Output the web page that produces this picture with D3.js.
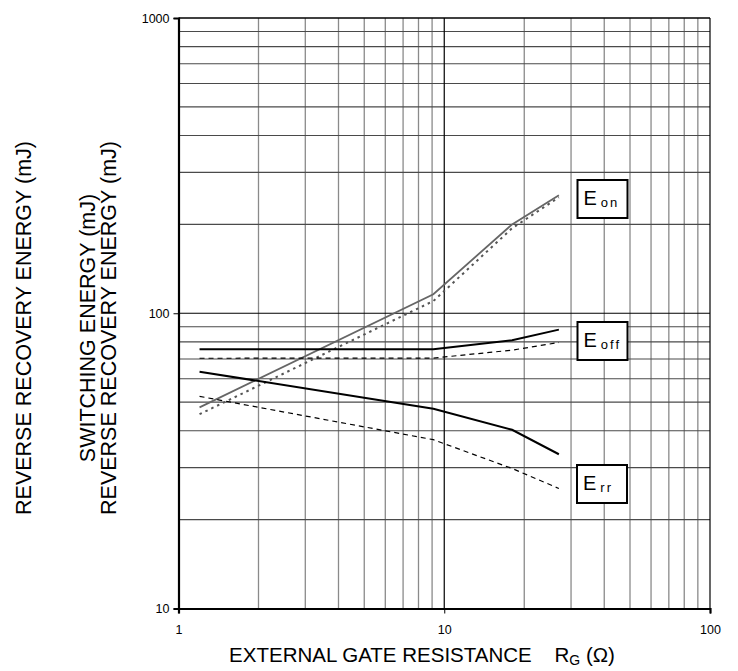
<!DOCTYPE html>
<meta charset="utf-8">
<head>
<script src="https://d3js.org/d3.v7.min.js"></script>
<style>
  body { margin: 0; background: #fff; }
  text { font-family: "Liberation Sans", Arial, sans-serif; }
</style>
</head>
<body>
<div id="chart"></div>
<script>
// gate resistance values (ohm)
var rg = [1.2, 9.1, 18, 27];

// energies (mJ), solid = typ, dashed = second condition
var eonSolid  = [48, 116, 200, 251];
var eonDash   = [45.5, 110, 194, 247];
var eoffSolid = [75.5, 75.5, 81, 88];
var eoffDash  = [70.4, 70.5, 75, 79.6];
var errSolid  = [63.4, 47.5, 40.3, 33.3];
var errDash   = [52.3, 37.3, 29.8, 25.5];

var xTicks = [1, 10, 100];
var yTicks = [10, 100, 1000];

var W = 738, H = 671;
var margin = {left: 178.5, right: 28, top: 18, bottom: 62.5};

var svg = d3.select("#chart").append("svg")
    .attr("width", W).attr("height", H);

var x = d3.scaleLog().domain([1, 100]).range([margin.left, W - margin.right]);
var y = d3.scaleLog().domain([10, 1000]).range([H - margin.bottom, margin.top]);

// minor grid
var minorX = [], minorY = [];
[1, 10].forEach(function(d) { for (var k = 2; k <= 9; k++) minorX.push(d * k); });
[10, 100].forEach(function(d) { for (var k = 2; k <= 9; k++) minorY.push(d * k); });

svg.append("g").selectAll("line").data(minorX).enter().append("line")
    .attr("x1", function(d) { return x(d); }).attr("x2", function(d) { return x(d); })
    .attr("y1", y(10)).attr("y2", y(1000))
    .attr("stroke", "#8a8a8a").attr("stroke-width", 1.3);

svg.append("g").selectAll("line").data(minorY).enter().append("line")
    .attr("y1", function(d) { return y(d); }).attr("y2", function(d) { return y(d); })
    .attr("x1", x(1)).attr("x2", x(100))
    .attr("stroke", "#4a4a4a").attr("stroke-width", 1.2);

// major lines
svg.append("line").attr("x1", x(10)).attr("x2", x(10)).attr("y1", y(10)).attr("y2", y(1000))
    .attr("stroke", "#000").attr("stroke-width", 1.2);
svg.append("line").attr("y1", y(100)).attr("y2", y(100)).attr("x1", x(1)).attr("x2", x(100))
    .attr("stroke", "#000").attr("stroke-width", 1.2);
svg.append("line").attr("y1", y(1000)).attr("y2", y(1000)).attr("x1", x(1)).attr("x2", x(100))
    .attr("stroke", "#000").attr("stroke-width", 1.5);
svg.append("line").attr("x1", x(100)).attr("x2", x(100)).attr("y1", y(10)).attr("y2", y(1000))
    .attr("stroke", "#000").attr("stroke-width", 1.2);

// axes
var xAxis = svg.append("g")
    .attr("transform", "translate(0," + y(10) + ")")
    .call(d3.axisBottom(x).tickValues(xTicks).tickFormat(d3.format("d")).tickSize(5).tickPadding(12));
var yAxis = svg.append("g")
    .attr("transform", "translate(" + x(1) + ",0)")
    .call(d3.axisLeft(y).tickValues(yTicks).tickFormat(d3.format("d")).tickSize(5).tickPadding(4));
[xAxis, yAxis].forEach(function(a) {
    a.select(".domain").attr("stroke", "#000").attr("stroke-width", 2.2);
    a.selectAll(".tick line").attr("stroke", "#000");
    a.selectAll("text").attr("fill", "#000").style("font-size", "12.5px")
        .style("font-family", "Liberation Sans, Arial, sans-serif");
});

// curves
var line = d3.line()
    .x(function(d) { return x(d[0]); })
    .y(function(d) { return y(d[1]); });

function curve(vals, color, width, dash) {
    svg.append("path")
        .datum(rg.map(function(r, i) { return [r, vals[i]]; }))
        .attr("fill", "none")
        .attr("stroke", color)
        .attr("stroke-width", width)
        .attr("stroke-dasharray", dash)
        .attr("d", line);
}
curve(eonDash, "#555", 2, "2.5,4");
curve(eonSolid, "#666", 1.8, null);
curve(eoffDash, "#000", 1.2, "5,4");
curve(eoffSolid, "#000", 2, null);
curve(errDash, "#000", 1.2, "5,4");
curve(errSolid, "#000", 2, null);

// labels in boxes
var boxes = [
    {sub: "on",  x: 577.5, y: 180},
    {sub: "off", x: 577.5, y: 322},
    {sub: "rr",  x: 577,   y: 465}
];
boxes.forEach(function(b) {
    svg.append("rect").attr("x", b.x).attr("y", b.y).attr("width", 50).attr("height", 38)
        .attr("fill", "#fff").attr("stroke", "#000").attr("stroke-width", 2);
    var t = svg.append("text").attr("x", b.x + 6).attr("y", b.y + 25)
        .style("font-size", "20px").attr("fill", "#000");
    t.append("tspan").text("E");
    t.append("tspan").attr("dx", 4).attr("dy", 2).style("font-size", "13px")
        .attr("letter-spacing", "2px").text(b.sub);
});

// axis titles
var xt = svg.append("text").attr("x", 422).attr("y", 662).attr("text-anchor", "middle")
    .style("font-size", "20.5px").attr("fill", "#000").style("white-space", "pre");
xt.append("tspan").text("EXTERNAL GATE RESISTANCE    R");
xt.append("tspan").attr("dy", 3).style("font-size", "14px").text("G");
xt.append("tspan").attr("dy", -3).text(" (\u03A9)");

var ytitles = [
    {t: "REVERSE RECOVERY ENERGY (mJ)", x: 31},
    {t: "SWITCHING ENERGY (mJ)", x: 95},
    {t: "REVERSE RECOVERY ENERGY (mJ)", x: 116}
];
ytitles.forEach(function(d) {
    svg.append("text")
        .attr("transform", "translate(" + d.x + ",328) rotate(-90)")
        .attr("text-anchor", "middle")
        .style("font-size", "21.5px").attr("fill", "#000")
        .text(d.t);
});
</script>
</body>
</html>
